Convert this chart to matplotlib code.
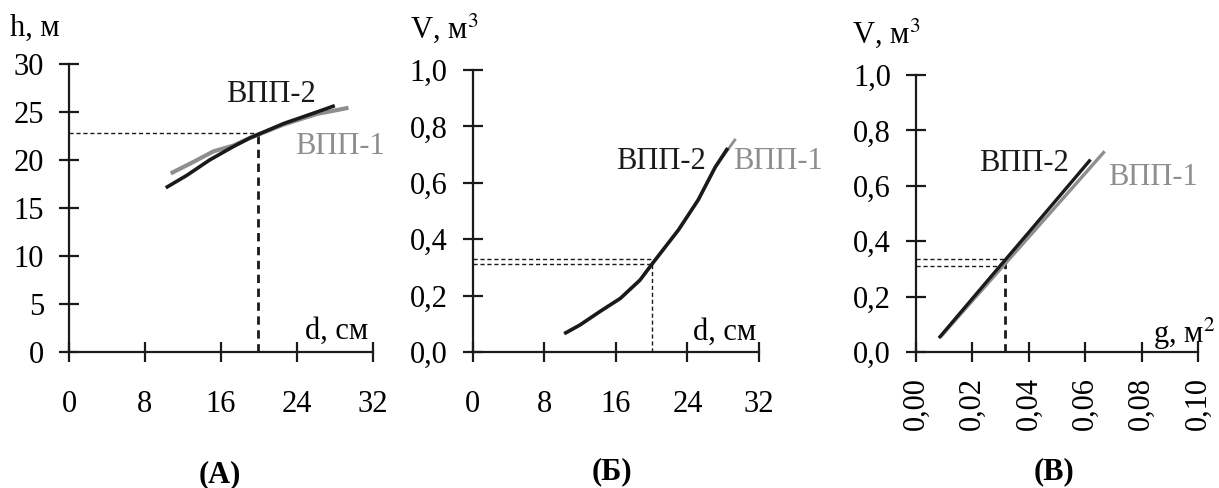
import matplotlib
matplotlib.use('Agg')
import matplotlib.pyplot as plt

plt.rcParams['font.family'] = ['Liberation Serif', 'DejaVu Serif']
plt.rcParams['mathtext.fontset'] = 'stix'

BLACK = '#1a1a1a'
GREY = '#8e8e8e'

# ─── data ───
# (A) height h, m vs diameter d, cm
a_d2 = [10.35, 12.4, 14.8, 17.3, 19.05, 22.6, 26.1, 27.8]
a_h2 = [17.2, 18.4, 20.0, 21.4, 22.3, 23.8, 25.0, 25.6]
a_d1 = [10.9, 13.1, 15.2, 17.3, 19.05, 22.6, 26.1, 28.2, 29.2]
a_h1 = [18.7, 19.8, 20.9, 21.5, 22.3, 23.7, 24.8, 25.2, 25.4]
a_ref_d, a_ref_h = 19.9, 22.8

# (Б) volume V, m3 vs diameter d, cm
b_d2 = [10.4, 12.0, 14.2, 16.5, 18.7, 20.0, 23.0, 25.2, 27.1, 28.4]
b_v2 = [0.068, 0.096, 0.143, 0.19, 0.255, 0.31, 0.433, 0.539, 0.655, 0.718]
b_d1 = [10.6, 12.0, 14.2, 16.5, 18.7, 20.0, 23.0, 25.2, 27.1, 29.3]
b_v1 = [0.07, 0.097, 0.144, 0.191, 0.256, 0.311, 0.433, 0.539, 0.655, 0.752]
b_ref_d = 20.0
b_ref_v = [0.329, 0.311]

# (В) volume V, m3 vs basal area g, m2
c_g2 = [0.0085, 0.02, 0.03, 0.04, 0.05, 0.0615]
c_v2 = [0.055, 0.193, 0.313, 0.432, 0.552, 0.69]
c_g1 = [0.009, 0.02, 0.03, 0.04, 0.05, 0.0665]
c_v1 = [0.058, 0.185, 0.30, 0.415, 0.53, 0.72]
c_ref_g = 0.0316
c_ref_v = [0.335, 0.312]

d_ticks = [0, 8, 16, 24, 32]
h_ticks = [0, 5, 10, 15, 20, 25, 30]
v_ticks = [0.0, 0.2, 0.4, 0.6, 0.8, 1.0]
g_ticks = [0.00, 0.02, 0.04, 0.06, 0.08, 0.10]

FS = 22
W, H = 1219, 488
fig = plt.figure(figsize=(W / 100, H / 100), dpi=100)

def box(x0, x1, y0, y1):
    return [x0 / W, 1 - y1 / H, (x1 - x0) / W, (y1 - y0) / H]

axA = fig.add_axes(box(69, 373, 64, 352))
axB = fig.add_axes(box(472.7, 759, 70, 352))
axC = fig.add_axes(box(916, 1198, 75, 352))

def style(ax, xt, yt, xlab, ylab, xfmt, yfmt, xpad=20, xrot=0):
    for s in ('top', 'right'):
        ax.spines[s].set_visible(False)
    for s in ('left', 'bottom'):
        ax.spines[s].set_linewidth(1.6)
        ax.spines[s].set_color(BLACK)
    ax.set_xlim(xt[0], xt[-1]); ax.set_ylim(yt[0], yt[-1])
    ax.set_xticks(xt); ax.set_yticks(yt)
    ax.set_xticklabels([xfmt(v) for v in xt], rotation=xrot)
    ax.set_yticklabels([yfmt(v) for v in yt])
    ax.tick_params(axis='both', direction='inout', length=14, width=1.6,
                   labelsize=FS, color=BLACK)
    ax.tick_params(axis='y', pad=11)
    ax.tick_params(axis='x', pad=xpad)
    ax.patch.set_visible(False)
    ax.text(ylab[0], ylab[1], ylab[2], transform=ax.transAxes, fontsize=FS,
            ha='left', va='center')
    ax.text(xlab[0], xlab[1], xlab[2], transform=ax.transAxes, fontsize=FS,
            ha='right', va='bottom')

comma = lambda f: (lambda v: f.format(v).replace('.', ','))

dash = (0, (3, 2))

# ─── (А) ───
axA.plot([0, a_ref_d], [a_ref_h, a_ref_h], color=BLACK, lw=1, ls=dash)
axA.plot([a_ref_d, a_ref_d], [0, a_ref_h], color=BLACK, lw=2, ls=dash)
axA.plot(a_d1, a_h1, color=GREY, lw=3, clip_on=False)
axA.plot(a_d2, a_h2, color=BLACK, lw=2.6, clip_on=False)
axA.text(16.5, 26.8, 'ВПП-2', fontsize=FS, va='center', color=BLACK)
axA.text(23.8, 21.4, 'ВПП-1', fontsize=FS, va='center', color=GREY, clip_on=False)
style(axA, d_ticks, h_ticks, (0.985, 0.02, 'd, см'), (-0.194, 1.125, 'h, м'),
      comma('{:.0f}'), comma('{:.0f}'))

# ─── (Б) ───
for v in b_ref_v:
    axB.plot([0, b_ref_d], [v, v], color=BLACK, lw=1, ls=dash)
axB.plot([b_ref_d, b_ref_d], [0, min(b_ref_v)], color=BLACK, lw=1, ls=dash)
axB.plot(b_d1, b_v1, color=GREY, lw=2, clip_on=False)
axB.plot(b_d2, b_v2, color=BLACK, lw=2.6, clip_on=False)
axB.text(16.0, 0.674, 'ВПП-2', fontsize=FS, va='center', color=BLACK)
axB.text(29.1, 0.674, 'ВПП-1', fontsize=FS, va='center', color=GREY, clip_on=False)
style(axB, d_ticks, v_ticks, (0.99, 0.02, 'd, см'), (-0.219, 1.149, r'V, м$^{3}$'),
      comma('{:.0f}'), comma('{:.1f}'))

# ─── (В) ───
for v in c_ref_v:
    axC.plot([0, c_ref_g], [v, v], color=BLACK, lw=1, ls=dash)
axC.plot([c_ref_g, c_ref_g], [0, max(c_ref_v)], color=BLACK, lw=2, ls=dash)
axC.plot(c_g1, c_v1, color=GREY, lw=2.4, clip_on=False)
axC.plot(c_g2, c_v2, color=BLACK, lw=2.4, clip_on=False)
axC.text(0.0222, 0.68, 'ВПП-2', fontsize=FS, va='center', color=BLACK)
axC.text(0.068, 0.63, 'ВПП-1', fontsize=FS, va='center', color=GREY, clip_on=False)
style(axC, g_ticks, v_ticks, (1.06, 0.0, r'g, м$^{2}$'), (-0.227, 1.152, r'V, м$^{3}$'),
      comma('{:.2f}'), comma('{:.1f}'), xpad=11, xrot=90)

fig.text(0.180, 0.027, '(А)', fontsize=FS, fontweight='bold', ha='center', va='center')
fig.text(0.502, 0.033, '(Б)', fontsize=FS, fontweight='bold', ha='center', va='center')
fig.text(0.865, 0.033, '(В)', fontsize=FS, fontweight='bold', ha='center', va='center')

fig.savefig('out.png', dpi=100, facecolor='white')
